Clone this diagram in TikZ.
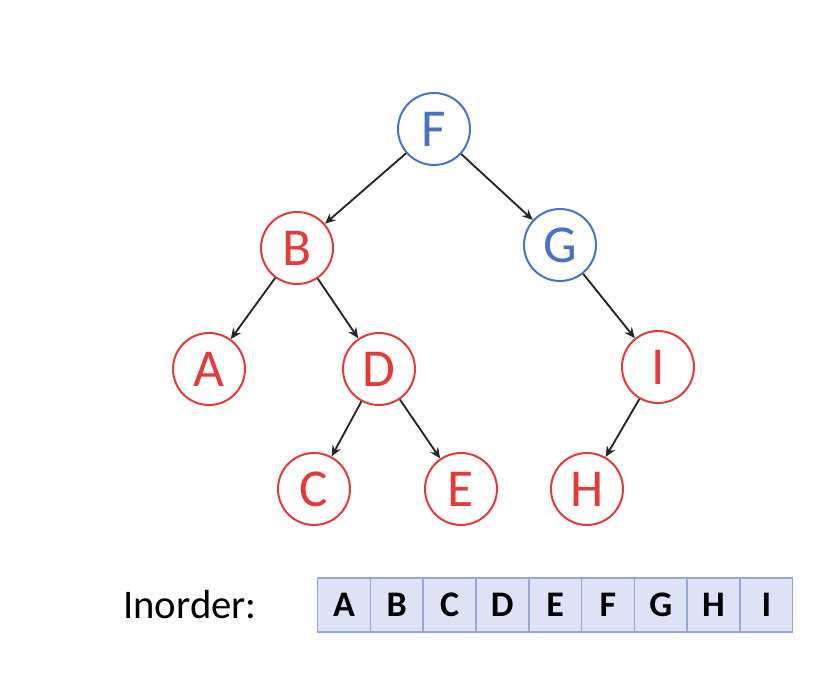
\documentclass[tikz,border=0pt]{standalone}
\usepackage{fontspec}
\setmainfont{Carlito}
\usetikzlibrary{arrows.meta, positioning, matrix}
\definecolor{nodeblue}{HTML}{4A72C4}
\definecolor{nodered}{HTML}{E23B3B}
\definecolor{cellfill}{HTML}{DDE3F5}
\definecolor{celledge}{HTML}{98A6DA}

\begin{document}
\begin{tikzpicture}[
    x=0.75pt, y=0.75pt,
    vtx/.style={circle, draw, line width=1.5pt, minimum size=54pt, inner sep=0pt, font=\fontsize{40}{44}\selectfont},
    redv/.style={vtx, draw=nodered, text=nodered},
    bluev/.style={vtx, draw=nodeblue, text=nodeblue},
    link/.style={-{Stealth[length=8pt, width=7pt]}, line width=1.4pt, draw=black!85},
    cell/.style={draw=celledge, fill=cellfill, line width=0.8pt, minimum width=39.2pt, minimum height=40.5pt, inner sep=0pt, font=\fontsize{27}{30}\selectfont\bfseries},
    lbl/.style={inner sep=0pt, font=\fontsize{30.5}{34}\selectfont}
]
    \useasboundingbox (0,0) rectangle (838,674);

    % tree
    \node[bluev] (F) at (434,545) {F};
    \node[redv]  (B) at (297,426) {B};
    \node[bluev] (G) at (560,429) {G};
    \node[redv]  (A) at (209,305) {A};
    \node[redv]  (D) at (379,305) {D};
    \node[redv]  (I) at (658,307) {I};
    \node[redv]  (C) at (314,185) {C};
    \node[redv]  (E) at (461,185) {E};
    \node[redv]  (H) at (587,185) {H};

    \draw[link] (F) -- (B);
    \draw[link] (F) -- (G);
    \draw[link] (B) -- (A);
    \draw[link] (B) -- (D);
    \draw[link] (D) -- (C);
    \draw[link] (D) -- (E);
    \draw[link] (G) -- (I);
    \draw[link] (I) -- (H);

    % inorder array
    \matrix (order) [matrix of nodes, nodes={cell}, column sep=-\pgflinewidth, inner sep=0pt, anchor=west] at (317,69) {
        A & B & C & D & E & F & G & H & I \\
    };
    \node[lbl, left=45pt of order] (inlbl) {Inorder:};
\end{tikzpicture}
\end{document}
